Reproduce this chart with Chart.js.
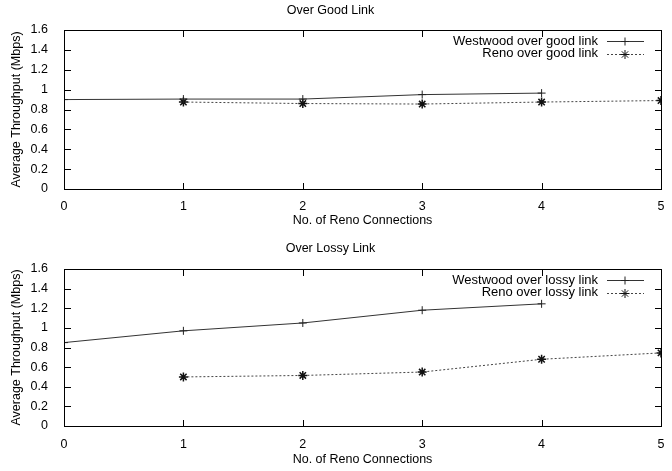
<!DOCTYPE html>
<html>
<head>
<meta charset="utf-8">
<script src="https://cdn.jsdelivr.net/npm/chart.js@4.4.1/dist/chart.umd.min.js"></script>
<style>
  body { margin: 0; background: #fff; }
  #wrap { position: relative; width: 672px; height: 471px; }
  .box { position: absolute; left: 0; width: 672px; }
</style>
</head>
<body>
<div id="wrap">
  <div class="box" style="top:0;height:236px"><canvas id="goodChart"></canvas></div>
  <div class="box" style="top:236px;height:235px"><canvas id="lossyChart"></canvas></div>
</div>
<script>
// x = number of Reno connections
const connections = [0, 1, 2, 3, 4, 5];
const yTicks = [0, 0.2, 0.4, 0.6, 0.8, 1, 1.2, 1.4, 1.6];
const xTicks = [0, 1, 2, 3, 4, 5];

// Over good link (Mbps)
const westwoodGood = [0.90, 0.905, 0.905, 0.95, 0.965, null];
const renoGood = [null, 0.875, 0.86, 0.855, 0.875, 0.89];

// Over lossy link (Mbps)
const westwoodLossy = [0.85, 0.97, 1.05, 1.18, 1.245, null];
const renoLossy = [null, 0.50, 0.515, 0.55, 0.68, 0.745];

const FONT = 'Liberation Sans, Arial, sans-serif';
const TICK_LEN = 7;

function toPoints(values) {
    return connections.map((c, i) => ({ x: c, y: values[i] }));
}

// box, inward ticks and gnuplot style legend
const gnuplotFrame = {
    id: 'gnuplotFrame',
    afterDraw(chart) {
        const ctx = chart.ctx;
        const a = chart.chartArea;
        const xs = chart.scales.x, ys = chart.scales.y;
        const L = Math.round(a.left), R = Math.round(a.right);
        const T = Math.round(a.top), B = Math.round(a.bottom);
        ctx.save();
        ctx.setLineDash([]);
        ctx.fillStyle = '#000';
        // frame
        ctx.fillRect(L, T, R - L + 1, 1);
        ctx.fillRect(L, B, R - L + 1, 1);
        ctx.fillRect(L, T, 1, B - T + 1);
        ctx.fillRect(R, T, 1, B - T + 1);
        // inward ticks, mirrored on all sides
        yTicks.forEach(v => {
            const y = Math.round(ys.getPixelForValue(v));
            ctx.fillRect(L, y, TICK_LEN, 1);
            ctx.fillRect(R - TICK_LEN + 1, y, TICK_LEN, 1);
        });
        xTicks.forEach(v => {
            const x = Math.round(xs.getPixelForValue(v));
            ctx.fillRect(x, B - TICK_LEN + 1, 1, TICK_LEN);
            ctx.fillRect(x, T, 1, TICK_LEN);
        });

        // legend
        ctx.font = '13px ' + FONT;
        ctx.textAlign = 'right';
        ctx.textBaseline = 'middle';
        chart.data.datasets.forEach((ds, i) => {
            const y = a.top + 11 + i * 12.5;
            ctx.fillStyle = '#000';
            ctx.fillText(ds.label, a.right - 63, y);
            ctx.strokeStyle = ds.borderColor;
            ctx.lineWidth = 1;
            ctx.setLineDash(ds.borderDash || []);
            ctx.beginPath();
            ctx.moveTo(a.right - 54, Math.round(y) + 0.5);
            ctx.lineTo(a.right - 17, Math.round(y) + 0.5);
            ctx.stroke();
            ctx.setLineDash([]);
            ctx.strokeStyle = ds.pointBorderColor;
            Chart.helpers.drawPoint(ctx, {
                pointStyle: ds.pointStyle, radius: ds.pointRadius,
                borderWidth: ds.pointBorderWidth
            }, a.right - 36, Math.round(y) + 0.5);
        });
        ctx.restore();
    }
};

function makeChart(id, title, westwood, reno, wLabel, rLabel, pad) {
    const ctx = document.getElementById(id).getContext('2d');
    return new Chart(ctx, {
        type: 'line',
        data: {
            datasets: [{
                label: wLabel,
                data: toPoints(westwood),
                borderColor: '#333',
                borderWidth: 1,
                pointStyle: 'cross',
                pointRadius: 4,
                pointBorderColor: '#222',
                pointBorderWidth: 1,
                tension: 0,
                spanGaps: false
            }, {
                label: rLabel,
                data: toPoints(reno),
                borderColor: '#444',
                borderWidth: 1,
                borderDash: [2, 2],
                pointStyle: 'star',
                pointRadius: 4.5,
                pointBorderColor: '#111',
                pointBorderWidth: 1.5,
                tension: 0
            }]
        },
        options: {
            responsive: true,
            maintainAspectRatio: false,
            animation: false,
            layout: { padding: { left: 0, right: 11, top: 0, bottom: 0 } },
            plugins: {
                legend: { display: false },
                tooltip: { enabled: false },
                title: {
                    display: true,
                    text: title,
                    color: '#000',
                    font: { family: FONT, size: 12.5, weight: 'normal' },
                    padding: { top: pad.titleTop, bottom: pad.titleBottom }
                }
            },
            scales: {
                x: {
                    type: 'linear',
                    min: 0, max: 5,
                    afterBuildTicks: s => { s.ticks = xTicks.map(v => ({ value: v })); },
                    afterFit: s => { s.height = pad.xHeight; },
                    grid: { display: false },
                    border: { display: false },
                    ticks: {
                        color: '#000', padding: pad.xTickPad,
                        font: { family: FONT, size: 12.5 },
                        callback: v => String(v)
                    },
                    title: {
                        display: true,
                        text: 'No. of Reno Connections',
                        color: '#000',
                        font: { family: FONT, size: 12.5 },
                        padding: { top: 0, bottom: pad.xTitleBottom }
                    }
                },
                y: {
                    min: 0, max: 1.6,
                    afterBuildTicks: s => { s.ticks = yTicks.map(v => ({ value: v })); },
                    afterFit: s => { s.width = 64; },
                    grid: { display: false },
                    border: { display: false },
                    ticks: {
                        color: '#000', padding: 8,
                        font: { family: FONT, size: 12.5 },
                        callback: v => String(v)
                    },
                    title: {
                        display: true,
                        text: 'Average Throughput (Mbps)',
                        color: '#000',
                        font: { family: FONT, size: 12.5 },
                        padding: { top: 9, bottom: 0 }
                    }
                }
            }
        },
        plugins: [gnuplotFrame]
    });
}

makeChart('goodChart', 'Over Good Link', westwoodGood, renoGood,
    'Westwood over good link', 'Reno over good link',
    { titleTop: 3, titleBottom: 12, xHeight: 47, xTickPad: 2, xTitleBottom: 8 });

makeChart('lossyChart', 'Over Lossy Link', westwoodLossy, renoLossy,
    'Westwood over lossy link', 'Reno over lossy link',
    { titleTop: 5, titleBottom: 13, xHeight: 45, xTickPad: 3, xTitleBottom: 4 });
</script>
</body>
</html>
